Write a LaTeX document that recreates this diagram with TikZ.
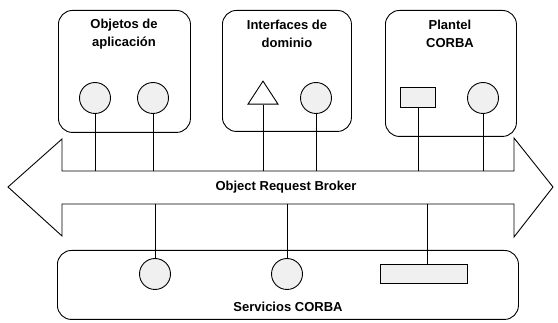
\documentclass[tikz,border=0pt]{standalone}
\usepackage{fontspec}
\setmainfont{Liberation Sans}
\usetikzlibrary{shapes.geometric}
\begin{document}
\begin{tikzpicture}[x=1pt,y=-1pt,
  grp/.style={draw,line width=0.9pt,rounded corners=14pt},
  comp/.style={draw,line width=0.9pt,circle,minimum size=31pt,inner sep=0pt,fill=gray!12},
  rectcomp/.style={draw,line width=0.9pt,rectangle,inner sep=0pt,fill=gray!12},
  tri/.style={draw,line width=0.9pt,isosceles triangle,isosceles triangle stretches,shape border rotate=90,minimum width=30pt,minimum height=23pt,inner sep=0pt,fill=white},
  lbl/.style={font=\bfseries\fontsize{13}{17.5}\selectfont,align=center},
  link/.style={line width=0.9pt}]
\useasboundingbox (0,0) rectangle (558,323);
% group boxes
\node[grp,minimum width=132pt,minimum height=122pt,anchor=north west] (g1) at (58,10) {};
\node[grp,minimum width=129pt,minimum height=121pt,anchor=north west] (g2) at (222,10) {};
\node[grp,minimum width=131pt,minimum height=126pt,anchor=north west] (g3) at (385,10) {};
\node[grp,minimum width=461pt,minimum height=69pt,anchor=north west] (g4) at (57,250) {};
\node[lbl] (t1) at (124,34) {Objetos de\\aplicación};
\node[lbl] (t2) at (287,34) {Interfaces de\\dominio};
\node[lbl] (t3) at (450,34) {Plantel\\CORBA};
\node[lbl] (t4) at (288,307) {Servicios CORBA};
% ORB arrow
\draw[line width=0.9pt,fill=white] (8,187) -- (62,139) -- (62,171) -- (514,171) -- (514,138)
  -- (553,187) -- (514,237) -- (514,204) -- (62,204) -- (62,236) -- cycle;
\node[lbl] (orb) at (286,187) {Object Request Broker};
\coordinate (top) at (0,171);
\coordinate (bot) at (0,204);
% top components
\node[comp] (c1) at (95,98) {};
\node[comp] (c2) at (153,98) {};
\node[tri] (tr) at (263,96) {};
\node[comp] (c3) at (316,98) {};
\node[rectcomp,minimum width=35pt,minimum height=20pt] (r1) at (418,97) {};
\node[comp] (c4) at (483,98) {};
% bottom components
\node[comp] (b1) at (155,274) {};
\node[comp] (b2) at (287,274) {};
\node[rectcomp,minimum width=87pt,minimum height=19pt] (r2) at (424,274) {};
% links
\foreach \n in {c1,c2,c3,r1,c4}{\draw[link] (\n.south) -- (\n.south |- top);}
\draw[link] (tr.apex |- tr.south) -- (tr.apex |- top);
\draw[link] (b1.north) -- (b1.north |- bot);
\draw[link] (b2.north) -- (b2.north |- bot);
\draw[link] ([xshift=3pt]r2.north) -- ([xshift=3pt]r2.north |- bot);
\end{tikzpicture}
\end{document}
